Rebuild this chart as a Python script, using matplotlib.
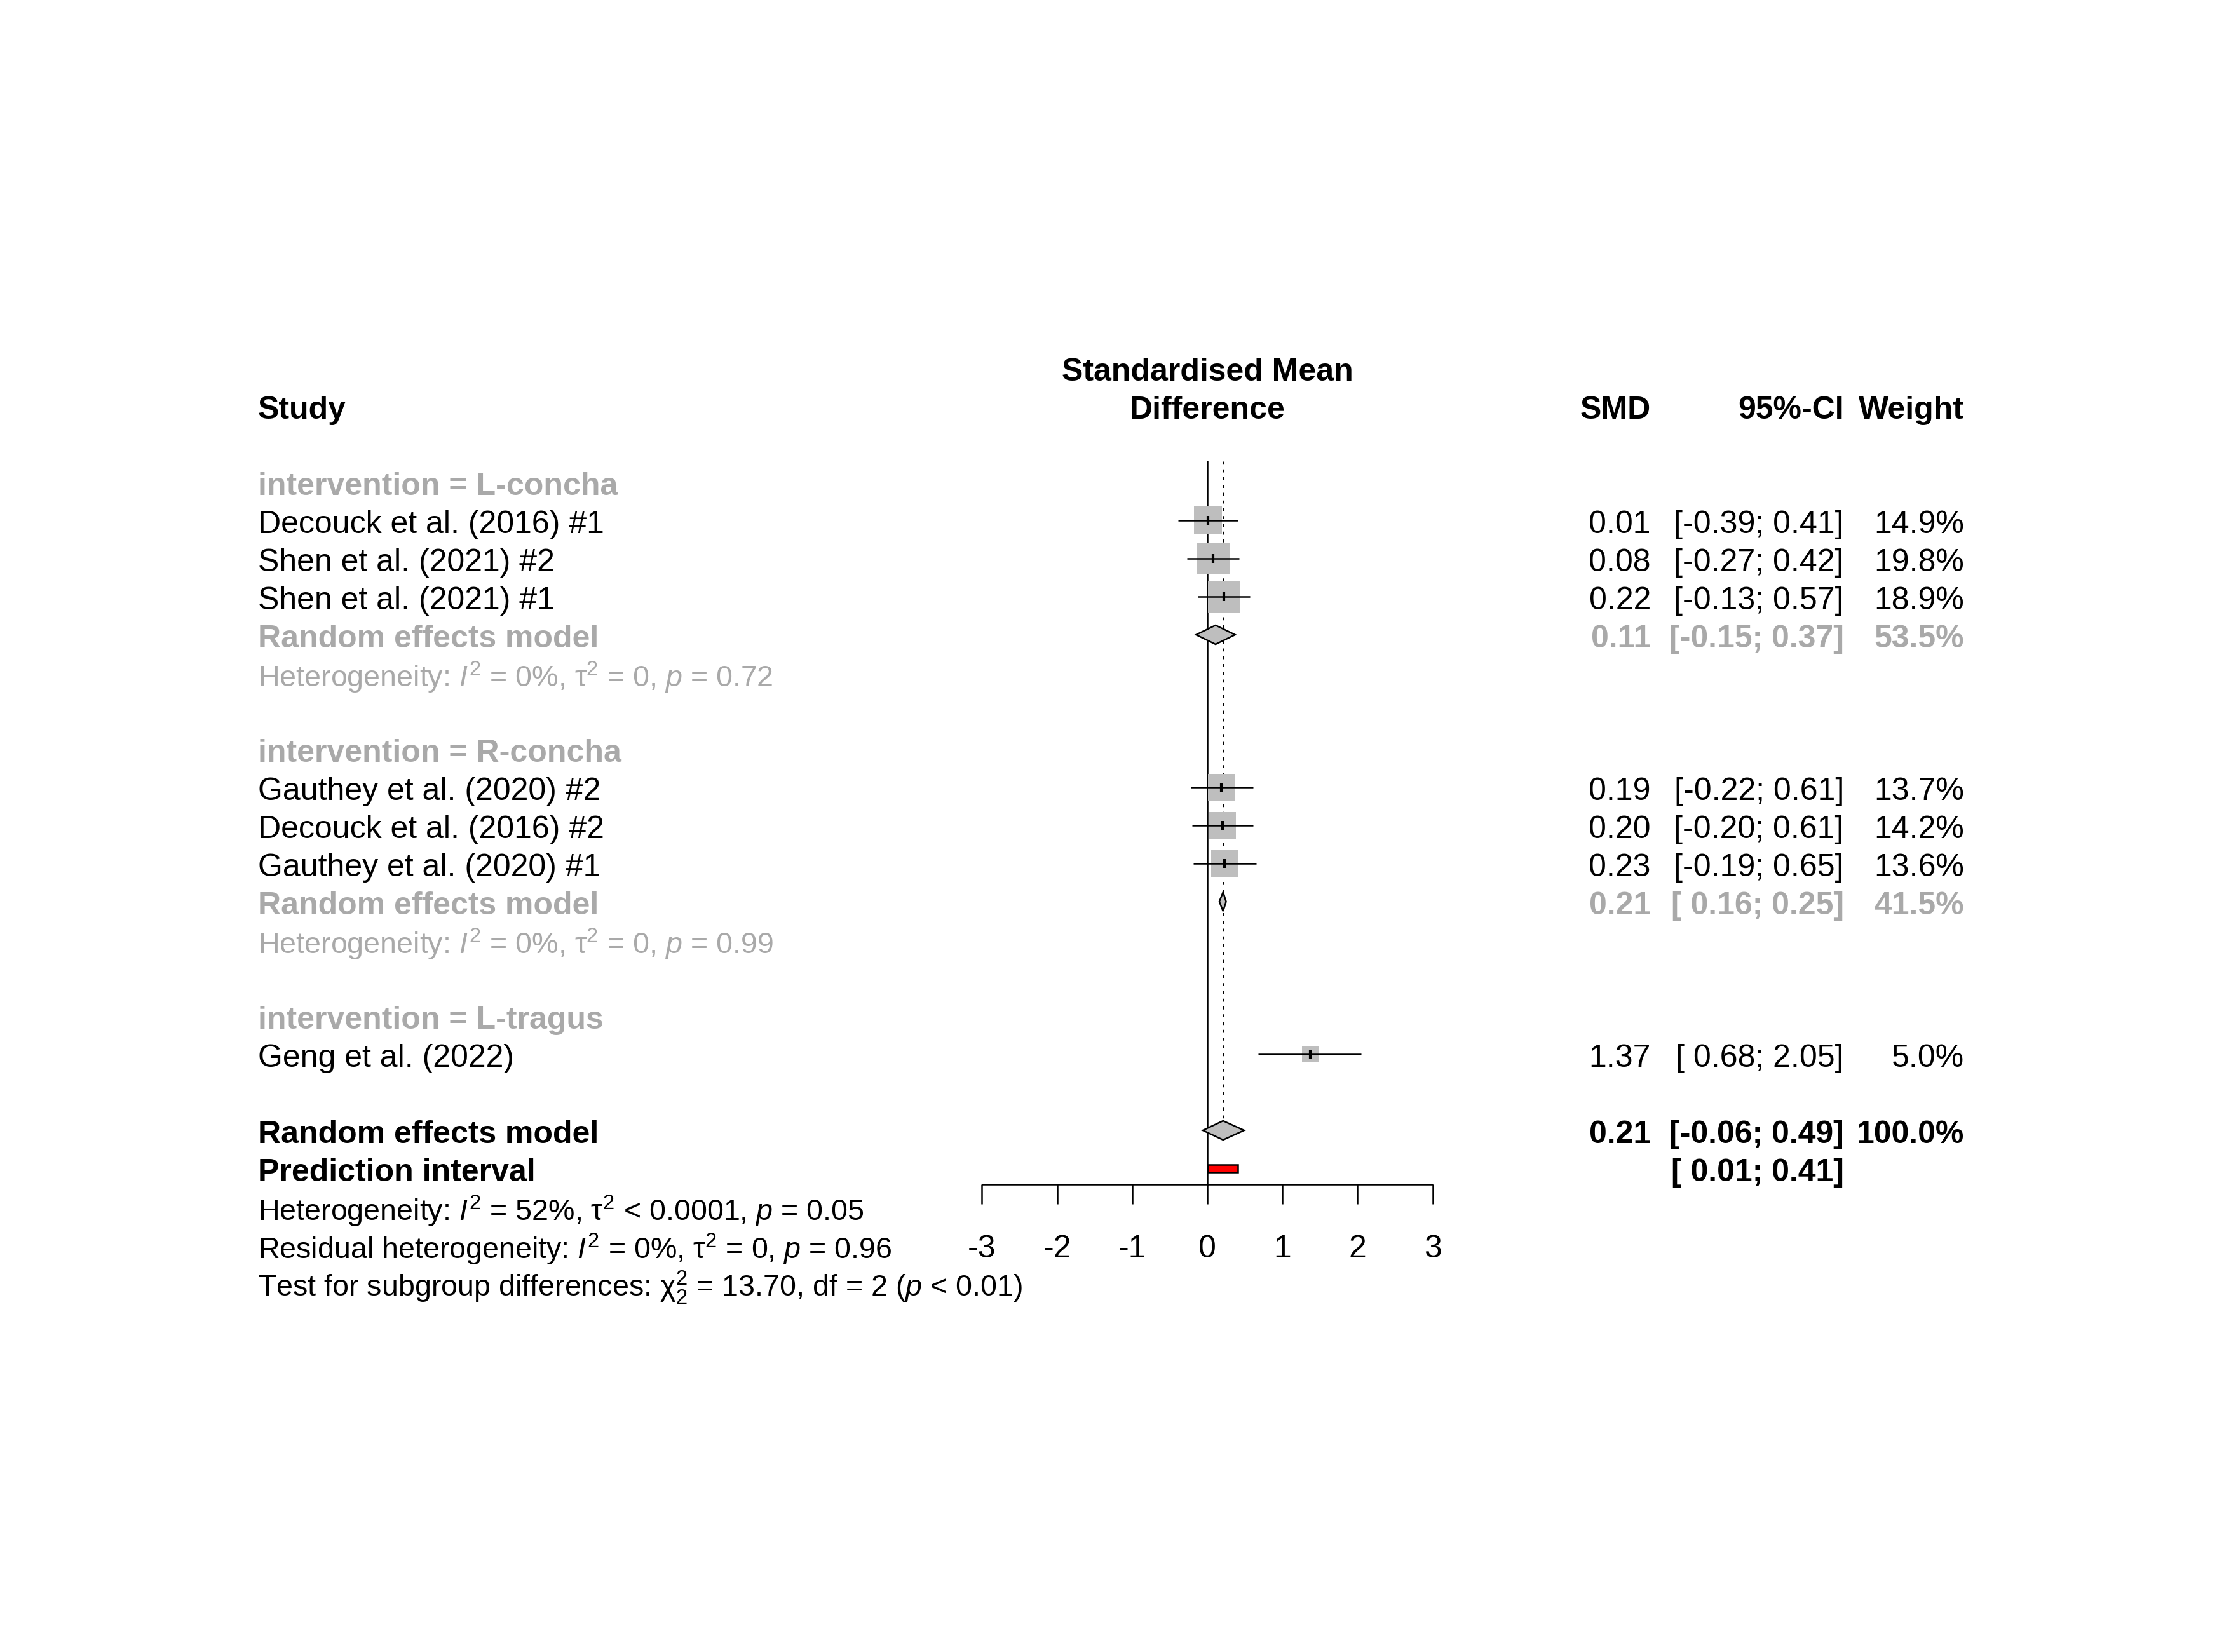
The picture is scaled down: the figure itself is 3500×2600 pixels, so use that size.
import numpy as np
import matplotlib
matplotlib.use("Agg")
import matplotlib.pyplot as plt
from matplotlib.patches import Rectangle, Polygon
from matplotlib.transforms import blended_transform_factory

plt.rcParams['font.family'] = ['Liberation Sans', 'DejaVu Sans']
plt.rcParams['mathtext.fontset'] = 'custom'
plt.rcParams['mathtext.rm'] = 'Liberation Sans'
plt.rcParams['mathtext.it'] = 'Liberation Sans:italic'
plt.rcParams['mathtext.bf'] = 'Liberation Sans:bold'
plt.rcParams['mathtext.sf'] = 'Liberation Sans'

####### data ##################
studies = ["Decouck et al. (2016) #1", "Shen et al. (2021) #2", "Shen et al. (2021) #1",
           "Gauthey et al. (2020) #2", "Decouck et al. (2016) #2", "Gauthey et al. (2020) #1",
           "Geng et al. (2022)"]
study_group = ["L-concha", "L-concha", "L-concha",
               "R-concha", "R-concha", "R-concha",
               "L-tragus"]
smd = [0.01, 0.08, 0.22, 0.19, 0.20, 0.23, 1.37]
lower = [-0.39, -0.27, -0.13, -0.22, -0.20, -0.19, 0.68]
upper = [0.41, 0.42, 0.57, 0.61, 0.61, 0.65, 2.05]
weight = [14.9, 19.8, 18.9, 13.7, 14.2, 13.6, 5.0]

groups = ["L-concha", "R-concha", "L-tragus"]
group_smd = [0.11, 0.21, None]
group_lower = [-0.15, 0.16, None]
group_upper = [0.37, 0.25, None]
group_weight = [53.5, 41.5, None]
group_het = [r"Heterogeneity: $I^2$ = 0%, $\mathrm{\tau}^2$ = 0, $p$ = 0.72",
             r"Heterogeneity: $I^2$ = 0%, $\mathrm{\tau}^2$ = 0, $p$ = 0.99",
             None]

overall = [0.21, -0.06, 0.49, 100.0]
pred_int = [0.01, 0.41]
bottom_lines = [r"Heterogeneity: $I^2$ = 52%, $\mathrm{\tau}^2$ < 0.0001, $p$ = 0.05",
                r"Residual heterogeneity: $I^2$ = 0%, $\mathrm{\tau}^2$ = 0, $p$ = 0.96",
                r"Test for subgroup differences: $\mathrm{\chi}^2_2$ = 13.70, df = 2 ($p$ < 0.01)"]
xticks = [-3, -2, -1, 0, 1, 2, 3]

####### layout (pixels of the 3500x2600 canvas) ##################
W, H = 3500, 2600
x0_px, unit_px = 1900, 118.2     # where SMD=0 sits, pixels per SMD unit
row0_px, row_px = 639, 60.0       # y pixel of row 0, pixels per row
col_study = 406
col_smd = 2598
col_ci = 2902
col_w = 3091
fs = 12
fs_stat = 11.2      # the heterogeneity lines come out narrower in the original
dy = 0.12           # text sits a bit below the row centre
black = "black"
grey = "#A9A9A9"
boxcol = "#BEBEBE"
lw = 0.6

fig = plt.figure(figsize=(W / 300, H / 300), dpi=300)
ax = fig.add_axes([0, 0, 1, 1])
ax.set_xlim((0 - x0_px) / unit_px, (W - x0_px) / unit_px)
ax.set_ylim((H - row0_px) / row_px, (0 - row0_px) / row_px)
ax.axis("off")
tr = blended_transform_factory(fig.transFigure, ax.transData)


def txt(xpx, row, s, ha="left", bold=False, color=black, size=fs):
    ax.text(xpx / W, row + dy, s, transform=tr, ha=ha, va="center", fontsize=size,
            fontweight="bold" if bold else "normal", color=color)


def fmt_ci(lo, hi):
    a = "%.2f" % lo
    if lo >= 0:
        a = " " + a
    return "[%s; %.2f]" % (a, hi)


def diamond(est, lo, hi, row):
    ax.add_patch(Polygon([(lo, row), (est, row - 0.25), (hi, row), (est, row + 0.25)],
                         closed=True, facecolor=boxcol, edgecolor=black, lw=lw, zorder=4))


# header
txt(col_study, 0, "Study", bold=True)
ax.text(0, -1 + dy, "Standardised Mean", ha="center", va="center", fontsize=fs, fontweight="bold")
ax.text(0, 0 + dy, "Difference", ha="center", va="center", fontsize=fs, fontweight="bold")
txt(col_smd, 0, "SMD", ha="right", bold=True)
txt(col_ci, 0, "95%-CI", ha="right", bold=True)
txt(col_w, 0, "Weight", ha="right", bold=True)

row = 2
for g, gname in enumerate(groups):
    txt(col_study, row, "intervention = " + gname, bold=True, color=grey)
    row += 1
    for i in range(len(studies)):
        if study_group[i] != gname:
            continue
        txt(col_study, row, studies[i])
        txt(col_smd, row, "%.2f" % smd[i], ha="right")
        txt(col_ci, row, fmt_ci(lower[i], upper[i]), ha="right")
        txt(col_w, row, "%.1f%%" % weight[i], ha="right")
        s = 11.4 * np.sqrt(weight[i])
        ax.add_patch(Rectangle((smd[i] - s / unit_px / 2, row - s / row_px / 2),
                               s / unit_px, s / row_px, facecolor=boxcol, edgecolor="none",
                               zorder=2))
        ax.plot([lower[i], upper[i]], [row, row], color=black, lw=lw, zorder=3,
                solid_capstyle="butt")
        ax.plot([smd[i], smd[i]], [row - 0.11, row + 0.11], color=black, lw=1.0, zorder=3,
                solid_capstyle="butt")
        row += 1
    if group_smd[g] is not None:
        txt(col_study, row, "Random effects model", bold=True, color=grey)
        txt(col_smd, row, "%.2f" % group_smd[g], ha="right", bold=True, color=grey)
        txt(col_ci, row, fmt_ci(group_lower[g], group_upper[g]), ha="right", bold=True, color=grey)
        txt(col_w, row, "%.1f%%" % group_weight[g], ha="right", bold=True, color=grey)
        diamond(group_smd[g], group_lower[g], group_upper[g], row)
        row += 1
        txt(col_study, row, group_het[g], color=grey, size=fs_stat)
        row += 1
    row += 1

# overall
over_row = row
txt(col_study, row, "Random effects model", bold=True)
txt(col_smd, row, "%.2f" % overall[0], ha="right", bold=True)
txt(col_ci, row, fmt_ci(overall[1], overall[2]), ha="right", bold=True)
txt(col_w, row, "%.1f%%" % overall[3], ha="right", bold=True)
diamond(overall[0], overall[1], overall[2], row)
row += 1
txt(col_study, row, "Prediction interval", bold=True)
txt(col_ci, row, fmt_ci(pred_int[0], pred_int[1]), ha="right", bold=True)
ax.add_patch(Rectangle((pred_int[0], row - 0.1), pred_int[1] - pred_int[0], 0.2,
                       facecolor="red", edgecolor=black, lw=lw, zorder=4))
row += 1
for line in bottom_lines:
    txt(col_study, row, line, size=fs_stat)
    row += 1

# reference lines
axis_row = 20.42
ax.plot([0, 0], [1.45, axis_row], color=black, lw=lw, zorder=1)
ax.plot([overall[0], overall[0]], [1.45, over_row - 0.25], color=black, lw=lw,
        linestyle=(0, (1.9, 3.0)), zorder=1)

# x axis
ax.plot([xticks[0], xticks[-1]], [axis_row, axis_row], color=black, lw=lw,
        solid_capstyle="butt")
for t in xticks:
    ax.plot([t, t], [axis_row, axis_row + 0.52], color=black, lw=lw, solid_capstyle="butt")
    ax.text(t, 22 + dy, "%d" % t, ha="center", va="center", fontsize=fs)

fig.savefig("out.png", dpi=300)
